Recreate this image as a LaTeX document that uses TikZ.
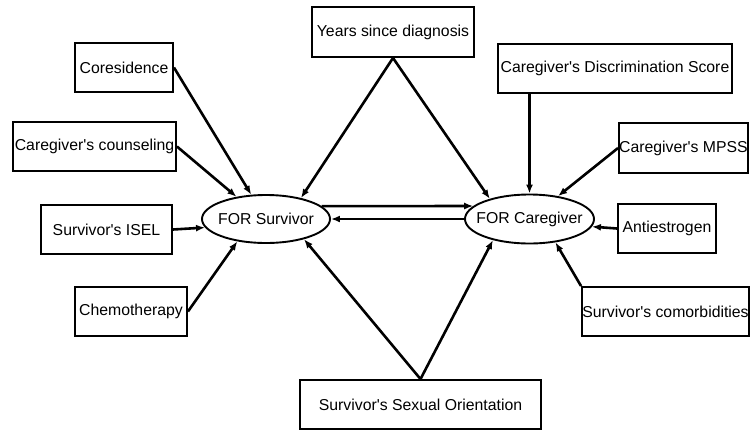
\documentclass[tikz,border=0pt]{standalone}
\usepackage{fontspec}
\setmainfont{Liberation Sans}
\usetikzlibrary{arrows.meta,shapes.geometric}
\newcommand{\apo}{\textquotesingle}
\begin{document}
\begin{tikzpicture}[x=1pt,y=-1pt,
  every node/.style={font=\fontsize{15.8}{18}\selectfont, inner sep=0pt},
  box/.style={draw, line width=1.9pt, rectangle},
  oval/.style={draw, line width=1.9pt, ellipse},
  arr/.style={line width=2.6pt, -{Latex[length=9pt,width=7pt]}}]
\useasboundingbox (0,0) rectangle (750,432);
% boxes
\node[box, minimum width=98pt,  minimum height=49pt] (cor)   at (124,67.5)   {Coresidence};
\node[box, minimum width=163pt, minimum height=49pt] (cc)    at (94.5,146.5) {Caregiver\apo s counseling};
\node[box, minimum width=131pt, minimum height=49pt] (isel)  at (106.5,229.5){Survivor\apo s ISEL};
\node[box, minimum width=112pt, minimum height=49pt] (chemo) at (131,311.5)  {Chemotherapy};
\node[box, minimum width=162pt, minimum height=50pt] (yrs)   at (393,32)     {Years since diagnosis};
\node[box, minimum width=234pt, minimum height=49pt] (disc)  at (615,68.5)   {Caregiver\apo s Discrimination Score};
\node[box, minimum width=129pt, minimum height=50pt] (mpss)  at (683.5,148)  {Caregiver\apo s MPSS};
\node[box, minimum width=98pt,  minimum height=49pt] (ae)    at (667,228.5)  {Antiestrogen};
\node[box, minimum width=167pt, minimum height=49pt] (com)   at (665.5,311.5){Survivor\apo s comorbidities};
\node[box, minimum width=241pt, minimum height=49pt] (so)    at (420.5,404.5){Survivor\apo s Sexual Orientation};
% latent ovals
\node[oval, inner xsep=-3pt, minimum width=128pt, minimum height=48pt] (fs) at (266,219)   {FOR Survivor};
\node[oval, inner xsep=-8pt, minimum width=129pt, minimum height=49pt] (fc) at (529.5,219) {FOR Caregiver};
% arrows into FOR Survivor
\draw[arr] (cor.east)   -- (fs);
\draw[arr] (cc.east)    -- (fs.143);
\draw[arr] (isel.east)  -- (fs.188);
\draw[arr] (chemo.east) -- (fs.-142);
\draw[arr] (yrs.south)  -- (fs.31);
\draw[arr] (so.north)   -- (fs.-28);
% arrows into FOR Caregiver
\draw[arr] (yrs.south)  -- (fc.153.7);
\draw[arr] (fc.north |- disc.south) -- (fc.north);
\draw[arr] (mpss.west)  -- (fc);
\draw[arr] (ae.west)    -- (fc.-7.5);
\draw[arr] (com.north west) -- (fc.-42);
\draw[arr] (so.north)   -- (fc.-150);
% reciprocal arrows
\draw[arr] (fs.13.5) -- (fc.167.3);
\draw[arr] (fc.west) -- (fs.east);
\end{tikzpicture}
\end{document}
